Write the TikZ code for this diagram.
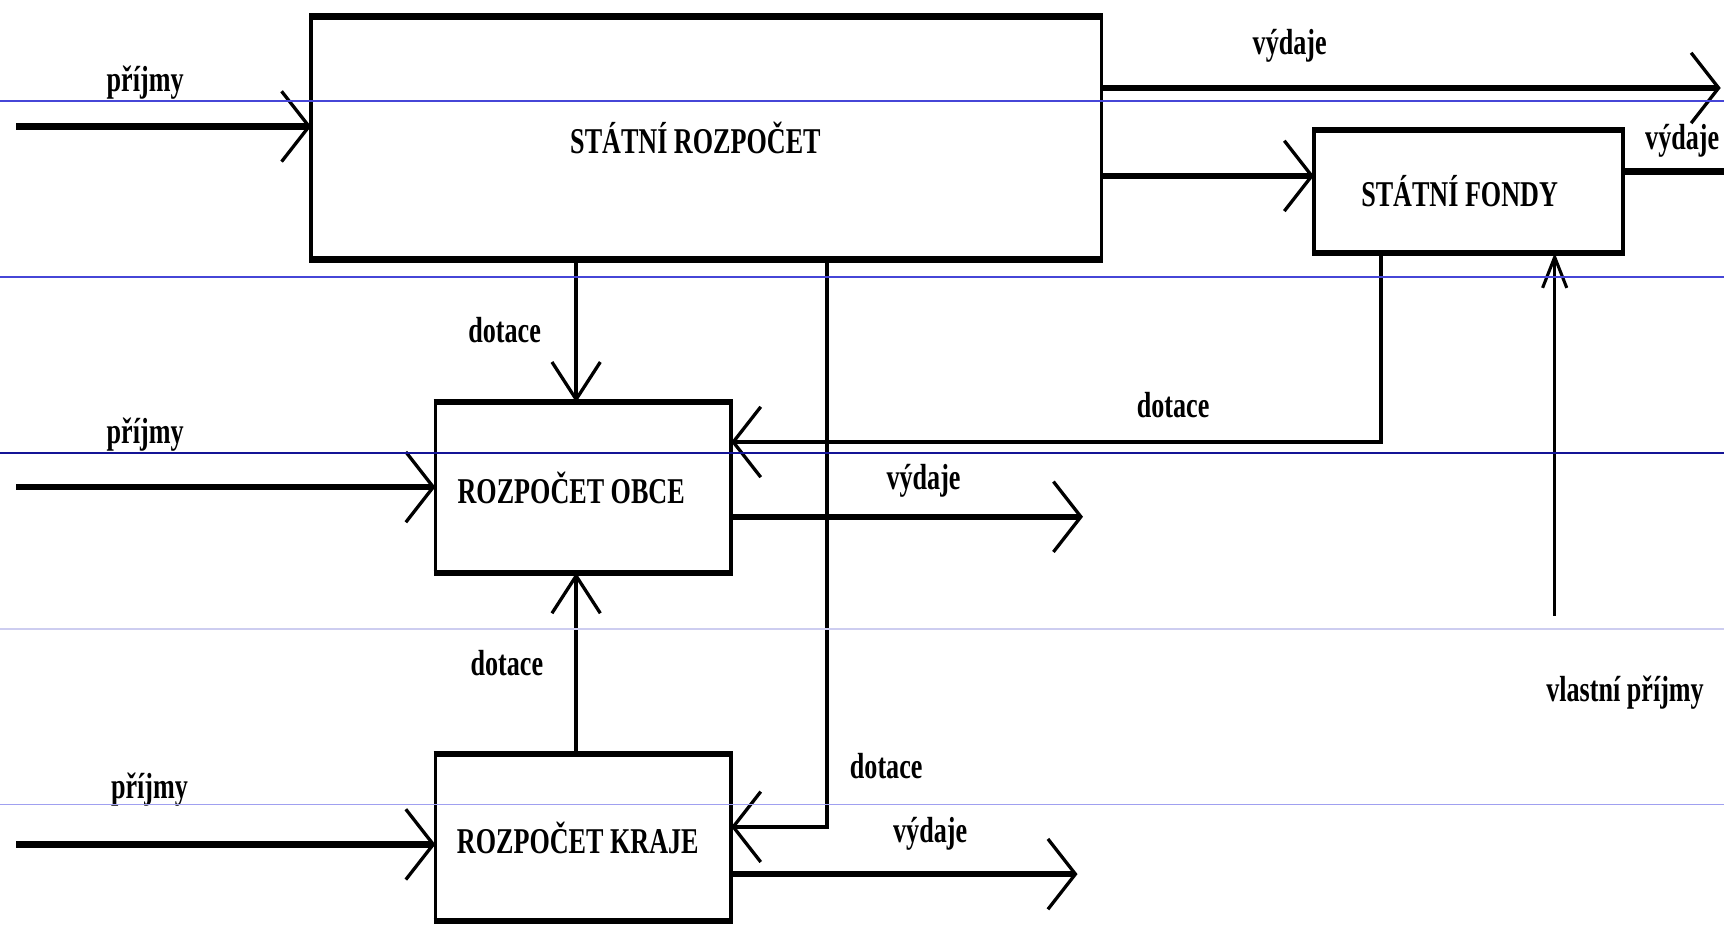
\documentclass[tikz,border=0pt]{standalone}
\usepackage{fontspec}
\setmainfont{Liberation Serif}[FakeStretch=0.72]
\usetikzlibrary{arrows.meta}
\definecolor{scanA}{RGB}{70,70,215}
\definecolor{scanB}{RGB}{20,20,150}
\definecolor{scanC}{RGB}{205,205,240}
\definecolor{scanD}{RGB}{160,160,240}
\begin{document}
\begin{tikzpicture}[x=0.5pt,y=-0.5pt,
  box/.style={draw, line width=1.6pt, inner sep=0pt, outer sep=0pt, font=\fontsize{16.5}{19}\selectfont\bfseries},
  lab/.style={inner sep=0pt, font=\fontsize{16.5}{19}\selectfont\bfseries},
  hedge/.style={line width=2.8pt, line cap=butt},
  thick line/.style={line width=2.8pt},
  mid line/.style={line width=2.1pt},
  thin line/.style={line width=1.6pt},
  harr/.style={-{Straight Barb[length=12.5pt,width=32pt,line width=1.5pt]}},
  varr/.style={-{Straight Barb[length=17pt,width=22pt,line width=1.5pt]}},
  sarr/.style={-{Straight Barb[length=14pt,width=11pt,line width=1.4pt]}},
  scan/.style={line width=0.6pt}
]
\useasboundingbox (0,0) rectangle (1568,841);
\fill[white] (0,0) rectangle (1568,841);

% boxes
\node[box, minimum width=359.5pt, minimum height=110.5pt] (sr) at (642.5,125.5) {STÁTNÍ ROZPOČET\hspace*{10pt}};
\node[box, minimum width=140.5pt, minimum height=56pt] (sf) at (1335.5,174) {STÁTNÍ FONDY\hspace*{8pt}};
\node[box, minimum width=134.5pt, minimum height=77.5pt] (ro) at (530.5,443.5) {\raisebox{-2pt}{ROZPOČET OBCE}\hspace*{11pt}};
\node[box, minimum width=134.5pt, minimum height=76pt] (rk) at (530.5,762) {ROZPOČET KRAJE\hspace*{5pt}};

% thicker horizontal edges
\foreach \b in {sr,sf,ro,rk}{
  \draw[hedge] ([xshift=-0.8pt]\b.north west) -- ([xshift=0.8pt]\b.north east);
  \draw[hedge] ([xshift=-0.8pt]\b.south west) -- ([xshift=0.8pt]\b.south east);
}

% helper coordinates
\coordinate (p1) at (15,115);
\coordinate (p2) at (15,443);
\coordinate (p3) at (15,768);
\coordinate (v1) at (1565,80);
\coordinate (a3) at (1100,160);
\coordinate (v2) at (1568,156);
\coordinate (v3) at (985,470);
\coordinate (v4) at (980,795);
\coordinate (d1) at (524,300);
\coordinate (k6) at (752,752);
\coordinate (f7) at (1256,402);
\coordinate (vp) at (1414,560);

% příjmy inputs
\draw[thick line, harr] (p1) -- (p1 -| sr.west);
\draw[thick line, harr] (p2) -- (p2 -| ro.west);
\draw[thick line, harr] (p3) -- (p3 -| rk.west);

% výdaje outputs
\draw[thick line, harr] (v1 -| sr.east) -- (v1);
\draw[thick line] (v2 -| sf.east) -- (v2);
\draw[thick line, harr] (v3 -| ro.east) -- (v3);
\draw[thick line, harr] (v4 -| rk.east) -- (v4);

% SR -> SF
\draw[thick line, harr] (a3 -| sr.east) -- (a3 -| sf.west);

% dotace
\draw[thin line, varr] (d1 |- sr.south) -- (d1 |- ro.north);
\draw[thin line, varr] (d1 |- rk.north) -- (d1 |- ro.south);
\draw[mid line, harr] (k6 |- sr.south) -- (k6) -- (k6 -| rk.east);
\draw[mid line, harr] (f7 |- sf.south) -- (f7) -- (f7 -| ro.east);

% vlastní příjmy
\draw[thin line, sarr] (vp) -- (vp |- sf.south);

% labels
\node[lab] (lp1) at (132,75) {příjmy};
\node[lab] (lp2) at (132,395) {příjmy};
\node[lab] (lp3) at (136,718) {příjmy};
\node[lab] (lv1) at (1173,42) {výdaje};
\node[lab] (lv2) at (1530,128) {výdaje};
\node[lab] (lv3) at (840,437) {výdaje};
\node[lab] (lv4) at (846,758) {výdaje};
\node[lab] (ld1) at (459,300) {dotace};
\node[lab] (ld2) at (1067,368) {dotace};
\node[lab] (ld3) at (461,603) {dotace};
\node[lab] (ld4) at (806,697) {dotace};
\node[lab] (lvp) at (1478,630) {vlastní příjmy};

% scan lines
\draw[scan, scanA] (0,92) -- (1568,92);
\draw[scan, scanA] (0,252) -- (1568,252);
\draw[scan, scanB] (0,412) -- (1568,412);
\draw[scan, scanC] (0,572) -- (1568,572);
\draw[scan, scanD] (0,732) -- (1568,732);
\end{tikzpicture}
\end{document}
